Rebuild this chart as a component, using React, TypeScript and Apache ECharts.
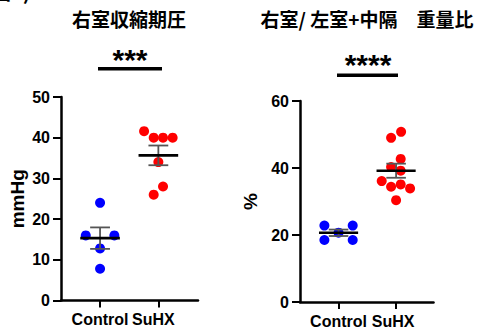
import React, { useEffect, useRef } from "react";
import * as echarts from "echarts";

// ---- data ----
const categories = ["Control", "SuHX"];
const leftTitle = "右室収縮期圧";
const rightTitle = "右室/ 左室+中隔　重量比";
const leftUnit = "mmHg";
const rightUnit = "%";
const leftStars = "***";
const rightStars = "****";

const rvspControl = [24, 16, 16, 12.8, 7.8];
const rvspControlJitter = [0, -0.245, 0.245, 0, 0];
const rvspSuHX = [41.6, 40, 40, 40, 34, 28, 26];
const rvspSuHXJitter = [-0.245, -0.08, 0.08, 0.245, 0, 0.08, -0.08];

const ratioControl = [22.8, 22.8, 20.7, 18.5, 18.5];
const ratioControlJitter = [-0.246, 0.246, 0, -0.246, 0.246];
const ratioSuHX = [50.8, 49.0, 42.7, 40.3, 39.2, 36.1, 34.4, 35.1, 33.9, 30.4];
const ratioSuHXJitter = [0.087, -0.087, 0.08, -0.087, 0.08, -0.25, -0.087, 0.08, 0.243, 0];

const leftTicks = { min: 0, max: 50, interval: 10 };
const rightTicks = { min: 0, max: 60, interval: 20 };

// ---- helpers ----
const mean = (a: number[]) => a.reduce((s, v) => s + v, 0) / a.length;
const sem = (a: number[]) => {
  const m = mean(a);
  const v = a.reduce((s, x) => s + (x - m) * (x - m), 0) / (a.length - 1);
  return Math.sqrt(v) / Math.sqrt(a.length);
};
const pts = (vals: number[], jit: number[], center: number) =>
  vals.map((v, i) => [center + jit[i], v]);

const LATIN = "'Liberation Sans', Arial, sans-serif";
const CJK = "'Noto Sans CJK JP', 'Noto Sans CJK SC', sans-serif";

const renderStats = (params: any, api: any) => {
  const x = api.value(0);
  const m = api.value(1);
  const s = api.value(2);
  const mL = api.coord([x - 0.34, m]);
  const mR = api.coord([x + 0.34, m]);
  const top = api.coord([x, m + s]);
  const bot = api.coord([x, m - s]);
  const tL = api.coord([x - 0.17, m + s]);
  const tR = api.coord([x + 0.17, m + s]);
  const bL = api.coord([x - 0.17, m - s]);
  const bR = api.coord([x + 0.17, m - s]);
  const grey = { stroke: "#555", lineWidth: 1.8 };
  return {
    type: "group",
    children: [
      { type: "line", shape: { x1: top[0], y1: top[1], x2: bot[0], y2: bot[1] }, style: grey },
      { type: "line", shape: { x1: tL[0], y1: tL[1], x2: tR[0], y2: tR[1] }, style: grey },
      { type: "line", shape: { x1: bL[0], y1: bL[1], x2: bR[0], y2: bR[1] }, style: grey },
      { type: "line", shape: { x1: mL[0], y1: mL[1], x2: mR[0], y2: mR[1] }, style: { stroke: "#000", lineWidth: 2.6 } },
    ],
  };
};

const xAxisFor = (gridIndex: number, min: number, max: number, shift: number) => ({
  type: "value",
  gridIndex,
  min,
  max,
  splitLine: { show: false },
  axisLine: { show: true, onZero: false, lineStyle: { color: "#000", width: 2.5 } },
  axisTick: { show: true, customValues: [1, 2], length: 7, lineStyle: { color: "#000", width: 2 } },
  axisLabel: {
    customValues: [1, 2],
    margin: 11,
    formatter: (v: number) => (Math.round(v) === 1 ? `{a|${categories[0]}}` : `{b|${categories[1]}}`),
    rich: {
      a: { fontSize: 16, fontWeight: "bold", fontFamily: LATIN, color: "#000" },
      b: { fontSize: 16, fontWeight: "bold", fontFamily: LATIN, color: "#000", padding: [0, shift, 0, 0] },
    },
  },
});

const yAxisFor = (gridIndex: number, t: any, name: string, gap: number) => ({
  type: "value",
  gridIndex,
  min: t.min,
  max: t.max,
  interval: t.interval,
  name,
  nameLocation: "middle",
  nameRotate: 90,
  nameGap: gap,
  nameTextStyle: { fontSize: 19, fontWeight: "bold", fontFamily: LATIN, color: "#000" },
  splitLine: { show: false },
  axisLine: { show: true, lineStyle: { color: "#000", width: 2.5 } },
  axisTick: { show: true, length: 8, lineStyle: { color: "#000", width: 2 } },
  axisLabel: { margin: 11, fontSize: 16, fontWeight: "bold", fontFamily: LATIN, color: "#000" },
});

export default function App() {
  const ref = useRef<HTMLDivElement>(null);
  useEffect(() => {
    if (!ref.current) return;
    const chart = echarts.init(ref.current, undefined, { renderer: "svg" });
    const option: any = {
      animation: false,
      backgroundColor: "#fff",
      grid: [
        { left: 61, top: 97, width: 137, height: 203.5 },
        { left: 300, top: 101, width: 133.5, height: 201 },
      ],
      xAxis: [xAxisFor(0, 0.33, 2.68, 10), xAxisFor(1, 0.33, 2.65, 6)],
      yAxis: [yAxisFor(0, leftTicks, leftUnit, 34), yAxisFor(1, rightTicks, rightUnit, 40)],
      series: [
        { type: "scatter", xAxisIndex: 0, yAxisIndex: 0, symbolSize: 10, itemStyle: { color: "#0000ff", opacity: 1 }, data: pts(rvspControl, rvspControlJitter, 1), z: 2 },
        { type: "scatter", xAxisIndex: 0, yAxisIndex: 0, symbolSize: 10, itemStyle: { color: "#ff0000", opacity: 1 }, data: pts(rvspSuHX, rvspSuHXJitter, 2), z: 2 },
        { type: "scatter", xAxisIndex: 1, yAxisIndex: 1, symbolSize: 10, itemStyle: { color: "#0000ff", opacity: 1 }, data: pts(ratioControl, ratioControlJitter, 1), z: 2 },
        { type: "scatter", xAxisIndex: 1, yAxisIndex: 1, symbolSize: 10, itemStyle: { color: "#ff0000", opacity: 1 }, data: pts(ratioSuHX, ratioSuHXJitter, 2), z: 2 },
        {
          type: "custom", xAxisIndex: 0, yAxisIndex: 0, z: 3, renderItem: renderStats,
          data: [[1, mean(rvspControl), sem(rvspControl)], [2, mean(rvspSuHX), sem(rvspSuHX)]],
        },
        {
          type: "custom", xAxisIndex: 1, yAxisIndex: 1, z: 3, renderItem: renderStats,
          data: [[1, mean(ratioControl), sem(ratioControl)], [2, mean(ratioSuHX), sem(ratioSuHX)]],
        },
      ],
      graphic: [
        { type: "text", left: -9, top: -19, style: { text: "図2)", font: `bold 20px ${CJK}`, fill: "#000" } },
        { type: "text", x: 129, y: 18, style: { text: leftTitle, font: `bold 19px ${CJK}`, fill: "#000", align: "center", verticalAlign: "middle" } },
        { type: "text", x: 367, y: 18, style: { text: rightTitle, font: `bold 19px ${CJK}`, fill: "#000", align: "center", verticalAlign: "middle" } },
        { type: "text", x: 130, y: 59, style: { text: leftStars, font: `bold 30px ${LATIN}`, fill: "#000", align: "center", verticalAlign: "middle" } },
        { type: "text", x: 368, y: 64, style: { text: rightStars, font: `bold 30px ${LATIN}`, fill: "#000", align: "center", verticalAlign: "middle" } },
        { type: "line", shape: { x1: 98, y1: 68.7, x2: 162, y2: 68.7 }, style: { stroke: "#000", lineWidth: 3.5 } },
        { type: "line", shape: { x1: 337, y1: 75.3, x2: 398, y2: 75.3 }, style: { stroke: "#000", lineWidth: 3.5 } },
      ],
    };
    chart.setOption(option);
    return () => chart.dispose();
  }, []);
  return (
    <div
      ref={ref}
      style={{ position: "fixed", left: 0, top: 0, width: 477, height: 335, background: "#fff" }}
    />
  );
}
